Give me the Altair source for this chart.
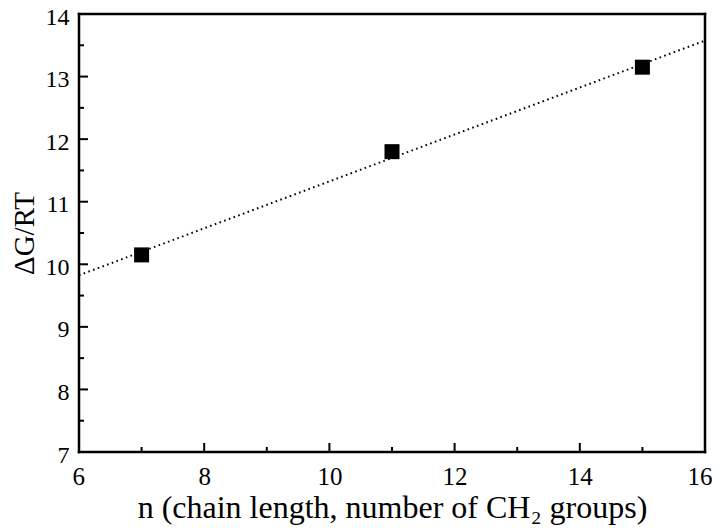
import altair as alt
import pandas as pd

# Data
n_values = [7, 11, 15]
dg_rt = [10.15, 11.80, 13.15]

x_major = [6, 8, 10, 12, 14, 16]
x_minor = [7, 9, 11, 13, 15]
y_major = [7, 8, 9, 10, 11, 12, 13, 14]
y_minor = [7.5, 8.5, 9.5, 10.5, 11.5, 12.5, 13.5]

W, H = 626, 438
FONT = "Liberation Serif"

pts = pd.DataFrame({"n": n_values, "g": dg_rt})
xs = alt.Scale(domain=[6, 16], nice=False, zero=False)
ys = alt.Scale(domain=[7, 14], nice=False, zero=False)

x_axis = alt.Axis(
    values=x_major, ticks=False, domain=False, grid=False,
    labelFlush=True, labelFlushOffset=7,
    labelFontSize=25, labelPadding=12, labelFont=FONT, labelColor="black",
    title="n (chain length, number of CH\u2082 groups)", titleFont=FONT,
    titleFontSize=32, titleFontWeight="normal", titleColor="black", titlePadding=3)
y_axis = alt.Axis(
    values=y_major, ticks=False, domain=False, grid=False, labelFlush=False,
    labelFontSize=24, labelPadding=10, labelOffset=3, labelFont=FONT, labelColor="black",
    title="\u0394G/RT", titleFont=FONT, titleFontSize=29,
    titleFontWeight="normal", titleColor="black", titlePadding=6)

line = alt.Chart(pts).transform_regression("n", "g", extent=[6, 16]).mark_line(
    color="black", strokeWidth=2, strokeDash=[1.6, 3.4], strokeCap="butt"
).encode(
    x=alt.X("n:Q", scale=xs, axis=x_axis),
    y=alt.Y("g:Q", scale=ys, axis=y_axis),
)

points = alt.Chart(pts).mark_square(size=225, color="black", opacity=1).encode(
    x=alt.X("n:Q", scale=xs, axis=x_axis),
    y=alt.Y("g:Q", scale=ys, axis=y_axis),
)

def xticks(vals, length):
    return alt.Chart(pd.DataFrame({"v": vals})).mark_rule(color="black", strokeWidth=2).encode(
        x=alt.X("v:Q", scale=xs, axis=x_axis),
        y=alt.value(H), y2=alt.value(H - length))

def yticks(vals, length):
    return alt.Chart(pd.DataFrame({"v": vals})).mark_rule(color="black", strokeWidth=2).encode(
        y=alt.Y("v:Q", scale=ys, axis=y_axis),
        x=alt.value(0), x2=alt.value(length))

def frame_rule(**enc):
    return alt.Chart(pd.DataFrame({"k": [0]})).mark_rule(
        color="black", strokeWidth=2.5, strokeCap="square").encode(**enc)

frame = [
    frame_rule(x=alt.value(0), x2=alt.value(W), y=alt.value(0)),
    frame_rule(x=alt.value(0), x2=alt.value(W), y=alt.value(H)),
    frame_rule(x=alt.value(0), y=alt.value(0), y2=alt.value(H)),
    frame_rule(x=alt.value(W), y=alt.value(0), y2=alt.value(H)),
]

chart = alt.layer(
    points, line,
    xticks(x_major, 9), xticks(x_minor, 5), yticks(y_major, 9), yticks(y_minor, 5),
    *frame,
).properties(
    width=W, height=H,
    background="white",
    autosize=alt.AutoSizeParams(type="none"),
    padding={"left": 71, "top": 6, "right": 7, "bottom": 76},
).configure_view(stroke=None)

chart.save("out.html", embed_options={"renderer": "svg", "actions": False})
